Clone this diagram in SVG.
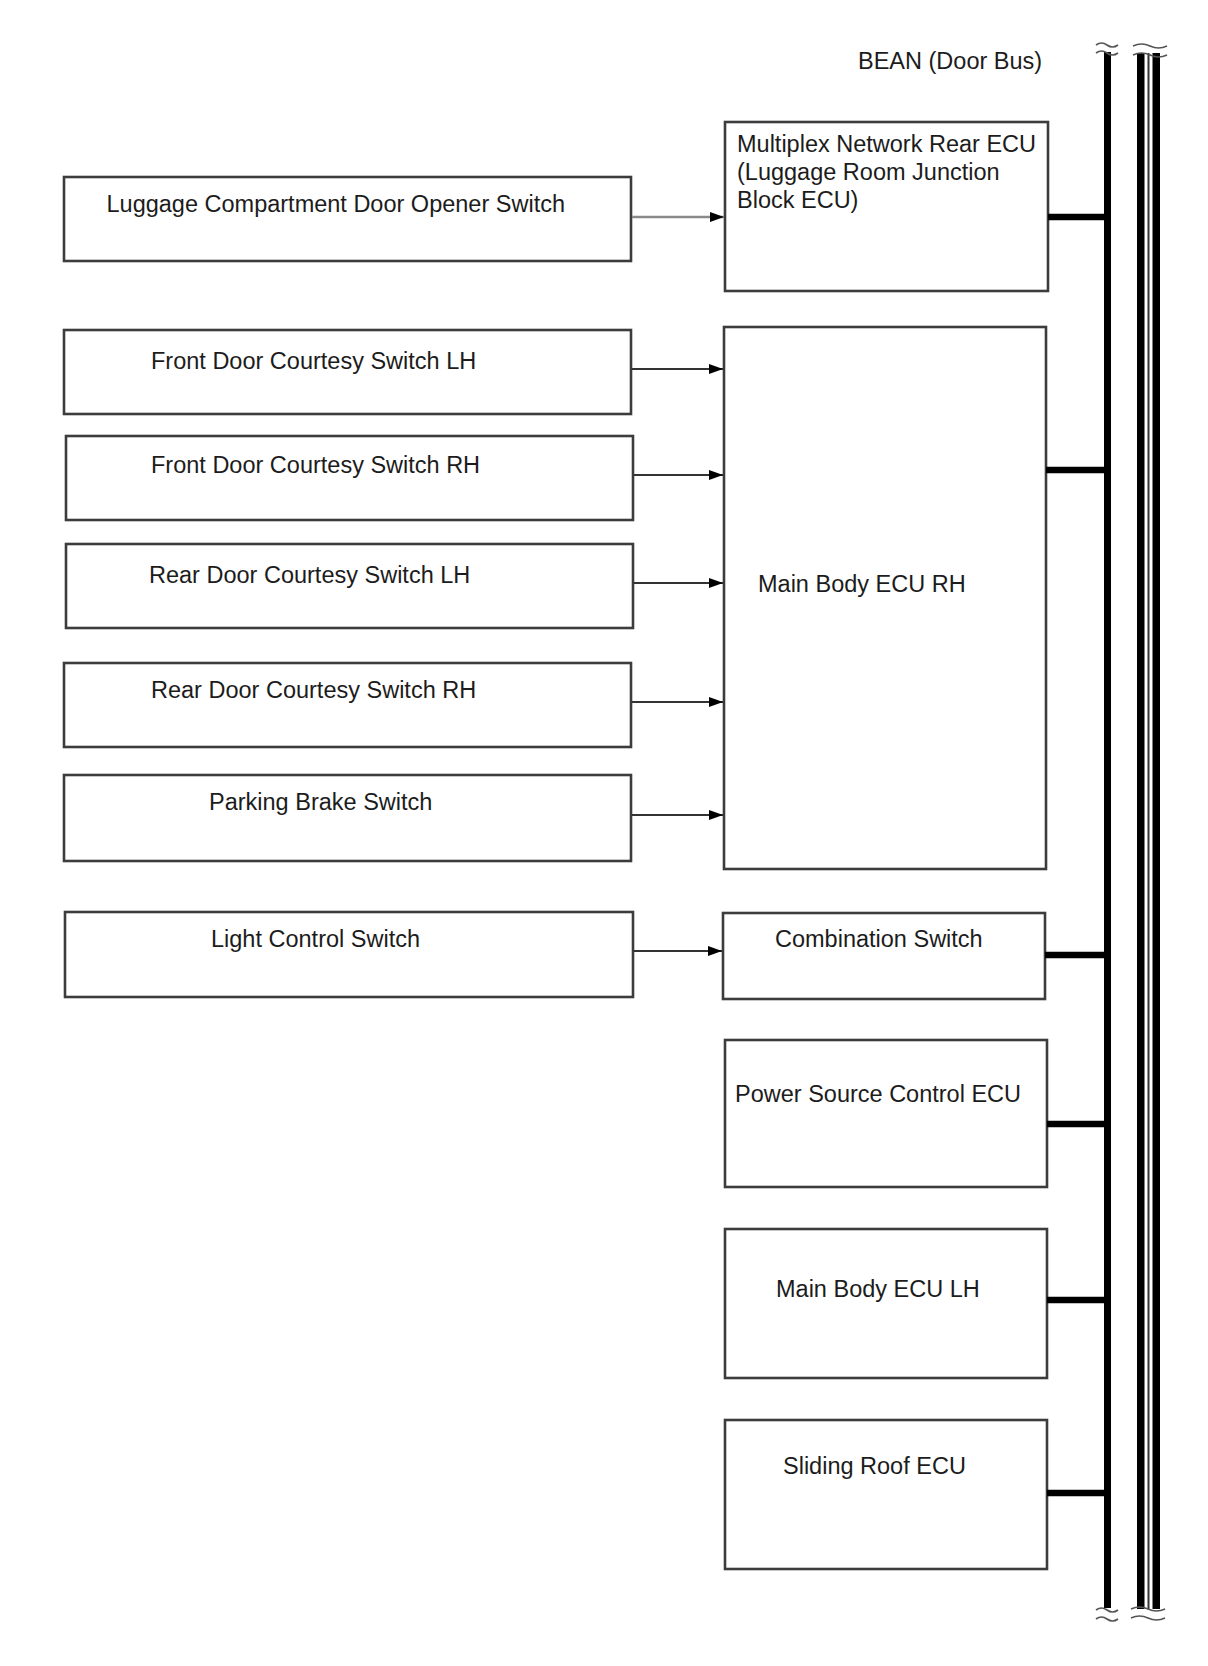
<svg xmlns="http://www.w3.org/2000/svg" width="1208" height="1666" viewBox="0 0 1208 1666">
<defs>
<style>
.box{fill:#ffffff;stroke:#3c3c3c;stroke-width:2.6}
.lbl{font-family:"Liberation Sans",Arial,sans-serif;font-size:23.5px;fill:#1c1c1c}
.arr{stroke:#333333;stroke-width:2;fill:none}
.arrg{stroke:#8a8a8a;stroke-width:2.6;fill:none}
.bus{stroke:#000000;stroke-width:6.5;fill:none}
.wave{stroke:#555555;stroke-width:1.6;fill:none}
</style>
<marker id="ah" markerWidth="14" markerHeight="10" refX="14" refY="5" orient="auto" markerUnits="userSpaceOnUse">
<path d="M0,0 L14,5 L0,10 Z" fill="#000000"/>
</marker>
</defs>
<rect width="1208" height="1666" fill="#ffffff"/>

<g id="bean-label"><text class="lbl" x="858" y="69">BEAN (Door Bus)</text></g>

<g id="bus">
<rect x="1104" y="52" width="7" height="1556" fill="#000000"/>
<rect x="1137" y="53" width="7.5" height="1556" fill="#000000"/>
<rect x="1147.5" y="53" width="2" height="1556" fill="#333333"/>
<rect x="1152.5" y="53" width="7.5" height="1556" fill="#000000"/>
<path class="wave" d="M1096,45 q5.5,-4 11,0 t11,0"/>
<path class="wave" d="M1096,53 q5.5,-4 11,0 t11,0"/>
<path class="wave" d="M1133,46 q8.5,-4 17,0 t17,0"/>
<path class="wave" d="M1133,55 q8.5,-4 17,0 t17,0"/>
<path class="wave" d="M1096,1610 q5.5,-4 11,0 t11,0"/>
<path class="wave" d="M1096,1619 q5.5,-4 11,0 t11,0"/>
<path class="wave" d="M1131,1609 q8.5,-4 17,0 t17,0"/>
<path class="wave" d="M1131,1618 q8.5,-4 17,0 t17,0"/>
</g>

<g id="lug"><rect class="box" x="64" y="177" width="567" height="84"/><text class="lbl" x="106.5" y="212">Luggage Compartment Door Opener Switch</text></g>
<g id="fdlh"><rect class="box" x="64" y="330" width="567" height="84"/><text class="lbl" x="151" y="369">Front Door Courtesy Switch LH</text></g>
<g id="fdrh"><rect class="box" x="66" y="436" width="567" height="84"/><text class="lbl" x="151" y="473">Front Door Courtesy Switch RH</text></g>
<g id="rdlh"><rect class="box" x="66" y="544" width="567" height="84"/><text class="lbl" x="149" y="583">Rear Door Courtesy Switch LH</text></g>
<g id="rdrh"><rect class="box" x="64" y="663" width="567" height="84"/><text class="lbl" x="151" y="698">Rear Door Courtesy Switch RH</text></g>
<g id="pbs"><rect class="box" x="64" y="775" width="567" height="86"/><text class="lbl" x="209" y="810">Parking Brake Switch</text></g>
<g id="lcs"><rect class="box" x="65" y="912" width="568" height="85"/><text class="lbl" x="211" y="947">Light Control Switch</text></g>

<g id="mux"><rect class="box" x="725" y="122" width="323" height="169"/><text class="lbl" x="737" y="152">Multiplex Network Rear ECU</text><text class="lbl" x="737" y="180">(Luggage Room Junction</text><text class="lbl" x="737" y="208">Block ECU)</text></g>
<g id="mbrh"><rect class="box" x="724" y="327" width="322" height="542"/><text class="lbl" x="758" y="592">Main Body ECU RH</text></g>
<g id="comb"><rect class="box" x="723" y="913" width="322" height="86"/><text class="lbl" x="775" y="947">Combination Switch</text></g>
<g id="psc"><rect class="box" x="725" y="1040" width="322" height="147"/><text class="lbl" x="735" y="1102">Power Source Control ECU</text></g>
<g id="mblh"><rect class="box" x="725" y="1229" width="322" height="149"/><text class="lbl" x="776" y="1297">Main Body ECU LH</text></g>
<g id="srf"><rect class="box" x="725" y="1420" width="322" height="149"/><text class="lbl" x="783" y="1474">Sliding Roof ECU</text></g>

<g id="connectors">
<line class="arrg" x1="632" y1="217" x2="724" y2="217" marker-end="url(#ah)"/>
<line class="arr" x1="632" y1="369" x2="723" y2="369" marker-end="url(#ah)"/>
<line class="arr" x1="634" y1="475" x2="723" y2="475" marker-end="url(#ah)"/>
<line class="arr" x1="634" y1="583" x2="723" y2="583" marker-end="url(#ah)"/>
<line class="arr" x1="632" y1="702" x2="723" y2="702" marker-end="url(#ah)"/>
<line class="arr" x1="632" y1="815" x2="723" y2="815" marker-end="url(#ah)"/>
<line class="arr" x1="634" y1="951" x2="722" y2="951" marker-end="url(#ah)"/>
<line class="bus" x1="1048" y1="217" x2="1107" y2="217"/>
<line class="bus" x1="1046" y1="470" x2="1107" y2="470"/>
<line class="bus" x1="1045" y1="955" x2="1107" y2="955"/>
<line class="bus" x1="1047" y1="1124" x2="1107" y2="1124"/>
<line class="bus" x1="1047" y1="1300" x2="1107" y2="1300"/>
<line class="bus" x1="1047" y1="1493" x2="1107" y2="1493"/>
</g>
</svg>
